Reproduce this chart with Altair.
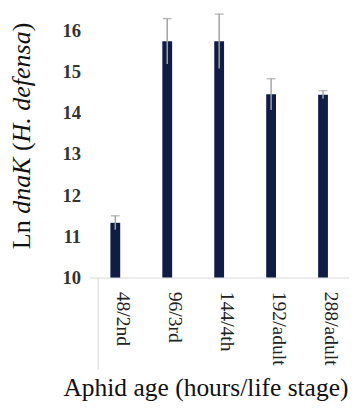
import altair as alt
import pandas as pd

# ---- data ----
stages = ["48/2nd", "96/3rd", "144/4th", "192/adult", "288/adult"]
means = [11.33, 15.74, 15.74, 14.45, 14.44]
errs = [0.17, 0.55, 0.66, 0.38, 0.10]
y_ticks = [10, 11, 12, 13, 14, 15, 16]

x_title = "Aphid age (hours/life stage)"
# y title pieces: (text, style, advance in em incl. following space)
y_title_parts = [("Ln", "normal", 1.361), ("dnaK", "italic", 2.417),
                 ("(", "normal", 0.333), ("H. defensa", "italic", 4.277),
                 (")", "normal", 0.333)]

df = pd.DataFrame({
    "stage": stages,
    "mean": means,
    "lo": [m - e for m, e in zip(means, errs)],
    "hi": [m + e for m, e in zip(means, errs)],
})

W, H = 265, 271
SERIF = "Liberation Serif"

xenc = alt.X("stage:N", sort=stages,
             scale=alt.Scale(paddingInner=0, paddingOuter=0),
             axis=alt.Axis(title=None, labelAngle=90, labelFont=SERIF,
                           labelFontSize=20, labelColor="#222222",
                           labelPadding=14, labelOffset=8, ticks=False,
                           domainColor="#d9d9d9", domainWidth=1))
yscale = alt.Scale(domain=[10, 16.45], nice=False, zero=False)

bars = alt.Chart(df).mark_bar(size=10, color="#101c45").encode(
    x=xenc,
    y=alt.Y("mean:Q", scale=yscale,
            axis=alt.Axis(title=None, values=y_ticks, domain=False, ticks=False,
                          grid=False, labelFont=SERIF, labelFontWeight="bold",
                          labelFontSize=19, labelColor="#333333",
                          labelPadding=9)),
    y2=alt.datum(10),
)

err = alt.Chart(df).mark_rule(color="#a3a3a3", strokeWidth=1.5).encode(
    x=alt.X("stage:N", sort=stages), y=alt.Y("lo:Q", scale=yscale), y2="hi:Q")

caps = alt.Chart(df).mark_tick(color="#a3a3a3", thickness=1.5, size=9,
                               orient="horizontal").encode(
    x=alt.X("stage:N", sort=stages), y=alt.Y("hi:Q", scale=yscale))

box_edge = alt.Chart(pd.DataFrame({"a": [0]})).mark_rule(
    color="#d9d9d9", strokeWidth=1).encode(
    x=alt.value(9), y=alt.value(H), y2=alt.value(H + 94))

xt = alt.Chart(pd.DataFrame({"t": [x_title]})).mark_text(
    font=SERIF, fontSize=26, color="#111111", align="center",
    baseline="alphabetic").encode(text="t:N", x=alt.value(119),
                                  y=alt.value(H + 121))

layers = [bars, err, caps, box_edge, xt]

fs = 26.5
ypos = 242.0
for txt, style, adv in y_title_parts:
    layers.append(
        alt.Chart(pd.DataFrame({"t": [txt]})).mark_text(
            font=SERIF, fontSize=fs, fontStyle=style, color="#111111",
            angle=270, align="left", baseline="middle").encode(
            text="t:N", x=alt.value(-69), y=alt.value(ypos)))
    ypos -= adv * fs

chart = alt.layer(*layers).properties(
    width=W, height=H,
    autosize=alt.AutoSizeParams(type="none"),
    padding={"left": 83, "top": 0, "right": 0, "bottom": 127},
).configure_view(stroke=None)

chart.save("out.html", embed_options={"renderer": "svg", "actions": False})
